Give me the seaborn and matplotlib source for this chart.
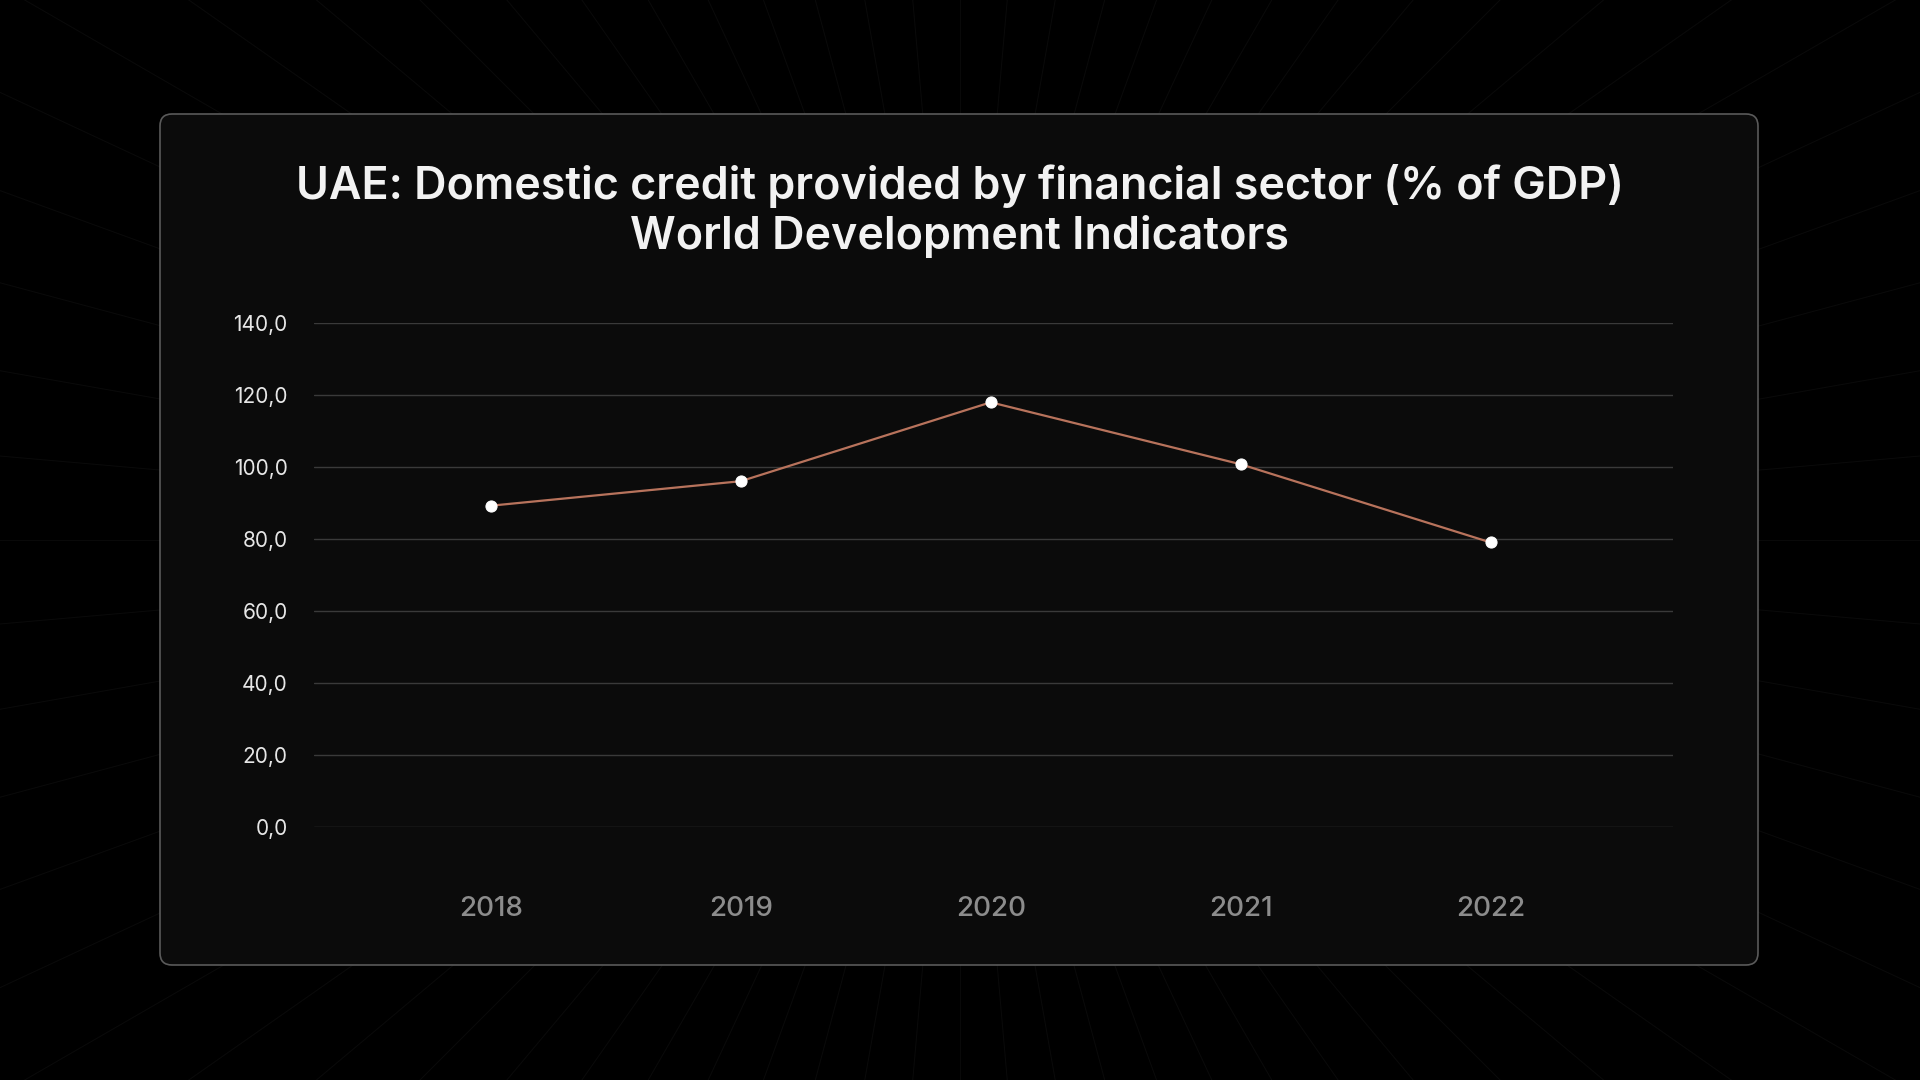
import matplotlib
matplotlib.use("Agg")
import matplotlib.pyplot as plt
import seaborn as sns
import numpy as np
import pandas as pd
from matplotlib.patches import FancyBboxPatch
from matplotlib.ticker import FuncFormatter

years = [2018, 2019, 2020, 2021, 2022]
credit = [89.2, 96.0, 117.9, 100.7, 79.0]
y_ticks = [0, 20, 40, 60, 80, 100, 120, 140]
title = "UAE: Domestic credit provided by financial sector (% of GDP)\nWorld Development Indicators"

df = pd.DataFrame({"Year": years, "Credit": credit})

sns.set_theme(style="dark")
plt.rcParams['font.family'] = ['Inter', 'DejaVu Sans']

fig = plt.figure(figsize=(19.2, 10.8), dpi=100)
fig.patch.set_facecolor("#000000")

# faint starburst lines in the background
bg = fig.add_axes([0, 0, 1, 1])
bg.set_xlim(0, 1920)
bg.set_ylim(1080, 0)
bg.axis("off")
cx, cy = 960, 540
for ang in np.linspace(0, 2 * np.pi, 72, endpoint=False):
    bg.plot([cx, cx + 1600 * np.cos(ang)], [cy, cy + 1600 * np.sin(ang)],
            color="#ffffff", alpha=0.04, lw=0.8, zorder=0)

# card
card = FancyBboxPatch((160, 114), 1598, 851, boxstyle="round,pad=0,rounding_size=12",
                      facecolor="#0b0b0b", edgecolor="#5a5a5a", lw=1.2, zorder=1)
bg.add_patch(card)

ax = fig.add_axes([313.5 / 1920, 1 - 827 / 1080, (1673 - 313.5) / 1920, (827 - 322.7) / 1080])
ax.set_facecolor("none")

sns.lineplot(data=df, x="Year", y="Credit", ax=ax, color="#b8735c", lw=1.6,
             marker="o", markersize=8, markerfacecolor="white", markeredgecolor="white", zorder=3)

ax.set_xlim(2018 - 0.71, 2022 + 0.73)
ax.set_ylim(0, 140)
ax.set_yticks(y_ticks)
ax.yaxis.set_major_formatter(FuncFormatter(lambda v, p: f"{v:.1f}".replace(".", ",")))
ax.set_xticks(years)
ax.set_xticklabels([str(y) for y in years], fontweight="medium")
ax.grid(axis="y", color="#3a3a3a", lw=1)
ax.grid(axis="x", visible=False)
for s in ax.spines.values():
    s.set_visible(False)
ax.tick_params(axis="y", colors="#e6e6e6", labelsize=15, length=0, pad=18.5)
ax.tick_params(axis="x", colors="#8c8c8c", labelsize=20, length=0, pad=50)
ax.set_xlabel("")
ax.set_ylabel("")

fig.text(0.5, 1 - 211 / 1080, title, ha="center", va="center", color="#f2f2f2",
         fontsize=32.3, fontweight="semibold", linespacing=1.22)

fig.savefig("out.png", dpi=100, facecolor=fig.get_facecolor())
